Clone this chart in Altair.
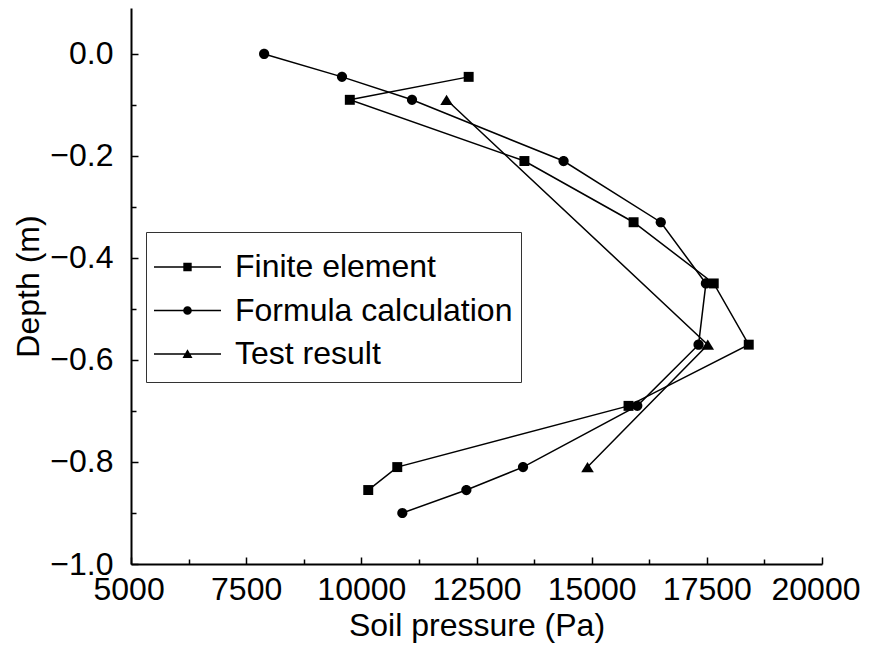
import altair as alt
import pandas as pd

series_names = ["Finite element", "Formula calculation", "Test result"]

fe_depth = [-0.045, -0.09, -0.21, -0.33, -0.45, -0.57, -0.69, -0.81, -0.855]
fe_pressure = [12330, 9750, 13540, 15910, 17650, 18410, 15800, 10780, 10150]

fc_depth = [0.0, -0.045, -0.09, -0.21, -0.33, -0.45, -0.57, -0.69, -0.81, -0.855, -0.90]
fc_pressure = [7890, 9580, 11100, 14390, 16500, 17480, 17320, 15990, 13510, 12280, 10890]

tr_depth = [-0.09, -0.57, -0.81]
tr_pressure = [11850, 17520, 14910]

x_ticks = [5000, 7500, 10000, 12500, 15000, 17500, 20000]
x_minor = [6250, 8750, 11250, 13750, 16250, 18750]
y_ticks = [0.0, -0.2, -0.4, -0.6, -0.8, -1.0]
y_minor = [-0.1, -0.3, -0.5, -0.7, -0.9]

rows = []
for name, ds, ps in [(series_names[0], fe_depth, fe_pressure),
                     (series_names[1], fc_depth, fc_pressure),
                     (series_names[2], tr_depth, tr_pressure)]:
    for i, (d, p) in enumerate(zip(ds, ps)):
        rows.append({"series": name, "idx": i, "depth": d, "pressure": p})
df = pd.DataFrame(rows)

W, H = 691, 556
FONT = "Liberation Sans"

x_scale = alt.Scale(domain=[5000, 20000], nice=False, zero=False)
y_scale = alt.Scale(domain=[-1.0, 0.09], nice=False, zero=False)

marker_paths = [
    "M-0.83,-0.83H0.83V0.83H-0.83Z",
    "M-0.85,0A0.85,0.85 0 1,1 0.85,0A0.85,0.85 0 1,1 -0.85,0Z",
    "M0,-0.85L1.05,0.85L-1.05,0.85Z",
]
bar = "M-1,-0.022H1V0.022H-1Z"
legend_paths = [
    bar + "M-0.125,-0.125H0.125V0.125H-0.125Z",
    bar + "M-0.13,0A0.13,0.13 0 1,1 0.13,0A0.13,0.13 0 1,1 -0.13,0Z",
    bar + "M0,-0.14L0.15,0.12L-0.15,0.12Z",
]

lines = alt.Chart(df).mark_line(color="black", strokeWidth=1.5).encode(
    x=alt.X("pressure:Q", scale=x_scale,
            axis=alt.Axis(orient="bottom", values=x_ticks, format="d", ticks=False, tickSize=0,
                          labelPadding=10, labelFlush=True, labelFlushOffset=38,
                          title="Soil pressure (Pa)",
                          titleBaseline="alphabetic", titleY=71)),
    y=alt.Y("depth:Q", scale=y_scale,
            axis=alt.Axis(orient="left", values=y_ticks, format=".1f", ticks=False, tickSize=0,
                          labelPadding=18, labelFlush=False, title="Depth (m)",
                          titleBaseline="alphabetic", titleX=-93)),
    detail="series:N",
    order="idx:Q",
)

points = alt.Chart(df).mark_point(filled=True, opacity=1, size=144, color="black").encode(
    x=alt.X("pressure:Q", scale=x_scale,
            axis=alt.Axis(orient="top", offset=-H, values=x_ticks, labels=False, domain=False,
                          tickSize=7, title=None)),
    y=alt.Y("depth:Q", scale=y_scale,
            axis=alt.Axis(orient="right", offset=-W, values=y_ticks, labels=False, domain=False,
                          tickSize=7, title=None)),
    shape=alt.Shape("series:N", scale=alt.Scale(domain=series_names, range=marker_paths), legend=None),
)

legend_layer = alt.Chart(df).transform_filter("false").mark_point(
    filled=True, opacity=1, size=4489, color="black"
).encode(
    x=alt.X("pressure:Q", scale=x_scale,
            axis=alt.Axis(orient="top", offset=-H, values=x_minor, labels=False, domain=False,
                          tickSize=5, title=None)),
    y=alt.Y("depth:Q", scale=y_scale,
            axis=alt.Axis(orient="right", offset=-W, values=y_minor, labels=False, domain=False,
                          tickSize=5, title=None)),
    shape=alt.Shape("series:N", scale=alt.Scale(domain=series_names, range=legend_paths),
                    legend=alt.Legend(title=" ", titleFontSize=5, titlePadding=2,
                                      orient="none", legendX=15, legendY=224, padding=8,
                                      clipHeight=40, rowPadding=3.5, labelFont=FONT,
                                      labelFontSize=32, labelColor="black", labelOffset=14,
                                      labelLimit=500, symbolOffset=0, strokeColor="#333333",
                                      symbolSize=4489, symbolFillColor="black",
                                      symbolStrokeWidth=0, symbolOpacity=1)),
)

chart = alt.layer(lines, points, legend_layer).resolve_scale(
    shape="independent"
).resolve_axis(
    x="independent", y="independent"
).properties(
    width=W, height=H,
    autosize=alt.AutoSizeParams(type="none"),
    padding={"left": 123, "top": 0, "right": 41, "bottom": 86},
).configure_view(strokeWidth=0).configure_axis(
    domainColor="black", domainWidth=2, tickColor="black", tickWidth=1.5,
    labelFont=FONT, labelFontSize=32, labelColor="black",
    titleFont=FONT, titleFontSize=32, titleFontWeight="normal", titleColor="black",
    grid=False,
)

chart.save("out.html", embed_options={"renderer": "svg", "actions": False})
